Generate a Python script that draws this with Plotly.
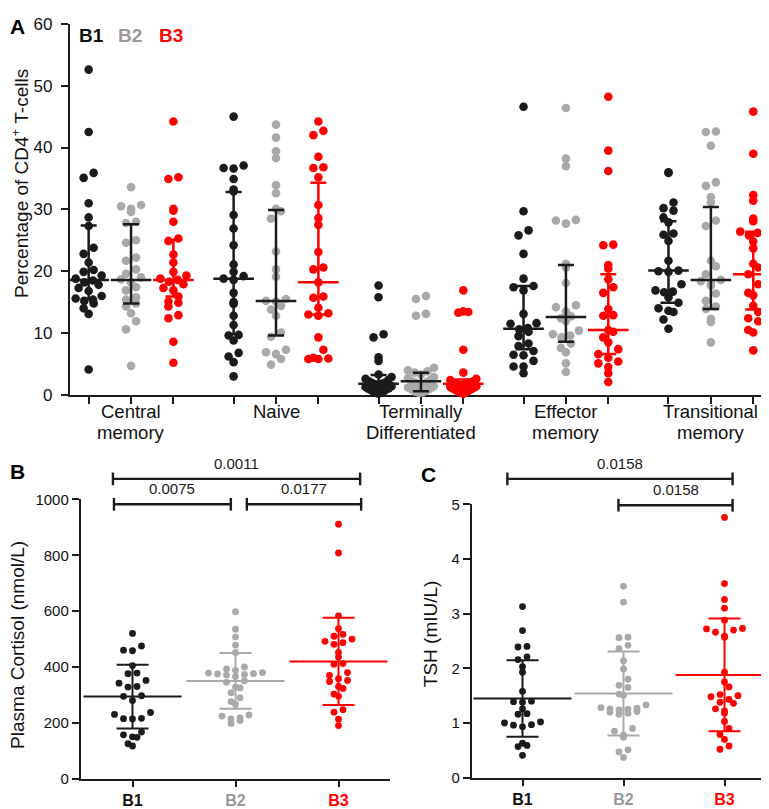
import numpy as np
import plotly.graph_objects as go

W, H = 769, 809
FONT = "Liberation Sans, Arial, Helvetica, sans-serif"

# ---------------- Panel A data (percentage of CD4+ T-cells) ----------------
subsets = ["Central<br>memory", "Naive", "Terminally<br>Differentiated",
           "Effector<br>memory", "Transitional<br>memory"]
groups = ["B1", "B2", "B3"]

cm_B1 = [52.6, 42.5, 35.9, 35.1, 31.0, 28.7, 27.3, 23.8, 22.8, 21.4, 20.2, 19.9, 19.3, 18.8,
         18.5, 18.2, 17.8, 17.3, 16.8, 16.0, 15.6, 15.4, 15.2, 14.8, 14.0, 13.1, 4.1]
cm_B2 = [33.6, 30.7, 30.5, 30.1, 29.6, 28.0, 27.8, 25.0, 24.6, 22.2, 21.7, 20.3, 19.6, 19.0,
         18.7, 18.2, 17.4, 16.9, 15.8, 15.4, 14.8, 14.3, 13.2, 11.9, 10.6, 4.7]
cm_B3 = [44.2, 35.2, 34.9, 30.1, 29.8, 28.0, 25.3, 24.9, 22.7, 21.4, 19.9, 19.3, 18.8, 18.6,
         18.3, 17.9, 17.3, 16.9, 15.9, 15.1, 14.9, 14.3, 12.9, 12.4, 8.6, 5.2]

nv_B1 = [45.0, 37.1, 36.7, 36.6, 34.9, 33.2, 32.9, 29.1, 26.9, 24.2, 21.1, 19.9, 19.2, 18.8,
         18.6, 16.5, 15.0, 14.7, 12.8, 11.3, 9.7, 9.6, 8.8, 6.8, 6.2, 5.3, 3.0]
nv_B2 = [43.7, 41.6, 39.4, 38.3, 33.9, 32.6, 30.1, 29.7, 28.5, 23.2, 20.3, 19.1, 15.5, 15.2,
         15.1, 14.4, 13.8, 12.8, 10.1, 9.4, 7.3, 6.9, 6.6, 5.8, 4.9]
nv_B3 = [44.2, 42.7, 42.0, 38.5, 36.8, 36.7, 35.2, 30.7, 28.6, 27.5, 23.1, 20.6, 20.3, 18.2,
         15.9, 15.7, 14.1, 13.2, 13.0, 12.8, 9.3, 7.3, 6.0, 5.9, 5.8, 5.8]

td_B1 = [17.7, 15.8, 9.8, 9.3, 6.1, 5.5, 3.3, 2.9, 2.6, 2.4, 2.2, 2.0, 1.9, 1.8, 1.7, 1.6,
         1.4, 1.3, 1.1, 1.0, 0.9, 0.8, 0.6, 0.5, 0.4, 0.3, 0.2]
td_B2 = [16.0, 15.5, 13.1, 12.8, 4.4, 4.0, 3.8, 3.6, 3.3, 2.9, 2.7, 2.4, 2.2, 2.1, 2.0, 1.8,
         1.6, 1.4, 1.2, 1.0, 0.9, 0.7, 0.5, 0.4, 0.3]
td_B3 = [16.9, 13.5, 13.4, 13.3, 7.3, 3.6, 2.6, 2.4, 2.2, 2.0, 1.9, 1.8, 1.7, 1.6, 1.5, 1.4,
         1.3, 1.2, 1.1, 1.0, 0.9, 0.8, 0.7, 0.6, 0.5, 0.4, 0.3, 0.2]

em_B1 = [46.6, 29.7, 26.6, 25.8, 22.8, 18.8, 17.6, 17.4, 16.9, 13.1, 11.6, 11.5, 10.8, 10.6,
         10.2, 9.5, 8.3, 7.9, 7.1, 6.5, 6.4, 5.5, 4.6, 4.6, 3.5]
em_B2 = [46.4, 38.2, 37.0, 28.3, 28.2, 27.7, 21.2, 20.6, 18.1, 14.5, 14.2, 13.5, 12.7, 12.4,
         11.9, 10.4, 9.8, 9.6, 9.3, 8.3, 7.6, 6.9, 5.1, 3.7]
em_B3 = [48.2, 39.5, 36.2, 24.3, 24.2, 21.0, 20.4, 18.7, 17.4, 16.5, 13.9, 12.9, 12.8, 10.5,
         10.2, 9.3, 8.5, 7.4, 6.6, 6.0, 5.4, 5.1, 4.5, 3.5, 2.1]

tm_B1 = [36.0, 35.9, 31.1, 30.2, 29.8, 28.7, 27.9, 26.1, 25.9, 24.9, 21.7, 20.1, 20.0, 19.9,
         17.9, 16.9, 16.7, 16.6, 15.8, 14.9, 14.0, 13.6, 13.4, 12.2, 10.7]
tm_B2 = [42.6, 42.5, 40.3, 34.4, 33.8, 32.0, 31.1, 28.2, 27.3, 21.7, 20.8, 19.5, 18.6, 18.4,
         18.1, 17.7, 16.4, 15.2, 14.3, 13.9, 12.3, 11.8, 8.5]
tm_B3 = [45.8, 39.0, 32.3, 31.4, 28.5, 28.1, 26.9, 26.4, 26.2, 25.8, 24.8, 23.7, 21.2, 20.6,
         19.5, 17.9, 16.5, 16.1, 14.4, 13.4, 12.4, 11.9, 10.5, 10.1, 7.2]

A_values = [[cm_B1, cm_B2, cm_B3], [nv_B1, nv_B2, nv_B3], [td_B1, td_B2, td_B3],
            [em_B1, em_B2, em_B3], [tm_B1, tm_B2, tm_B3]]

# median and interquartile range per subset [B1, B2, B3]
A_median = [[18.6, 18.6, 18.6], [18.8, 15.2, 18.2], [1.8, 2.2, 1.8], [10.7, 12.6, 10.5], [20.1, 18.6, 19.5]]
A_q1 = [[15.5, 14.8, 15.9], [9.8, 9.6, 13.0], [0.6, 0.6, 0.6], [7.4, 8.6, 6.6], [14.9, 13.9, 13.8]]
A_q3 = [[27.4, 27.6, 25.1], [32.8, 29.9, 34.3], [3.2, 3.6, 2.5], [17.6, 21.0, 19.5], [28.1, 30.4, 26.4]]

# ---------------- Panel B data (plasma cortisol, nmol/L) ----------------
cortisol_B1 = [520, 475, 460, 458, 405, 378, 376, 352, 342, 330, 328, 297, 295, 280, 237,
               230, 216, 215, 214, 167, 157, 150, 148, 125, 117]
cortisol_B2 = [598, 535, 507, 478, 452, 400, 393, 388, 380, 378, 376, 375, 373, 371, 366,
               350, 345, 328, 325, 308, 290, 276, 266, 228, 224, 218, 214, 208, 198]
cortisol_B3 = [911, 808, 583, 537, 517, 510, 500, 492, 487, 481, 452, 436, 412, 410, 380,
               370, 358, 352, 348, 330, 323, 303, 295, 247, 238, 213, 190]
cortisol_mean = [294, 350, 420]
cortisol_sd = [114, 100, 156]
cortisol_pairs = [(0, 2, "0.0011"), (0, 1, "0.0075"), (1, 2, "0.0177")]

# ---------------- Panel C data (TSH, mIU/L) ----------------
tsh_B1 = [3.13, 2.69, 2.40, 2.39, 2.21, 2.16, 2.03, 1.93, 1.58, 1.40, 1.39, 1.38, 1.26, 1.17,
          1.16, 1.02, 1.00, 0.97, 0.96, 0.93, 0.63, 0.59, 0.57, 0.41]
tsh_B2 = [3.50, 3.21, 2.57, 2.56, 2.42, 2.36, 2.14, 1.99, 1.80, 1.69, 1.65, 1.53, 1.51, 1.33,
          1.28, 1.27, 1.26, 1.25, 1.24, 1.21, 1.20, 1.18, 1.16, 0.90, 0.85, 0.78, 0.74, 0.51,
          0.47, 0.37]
tsh_B3 = [4.76, 3.55, 3.26, 3.10, 2.88, 2.73, 2.72, 2.70, 2.66, 2.59, 2.57, 1.93, 1.75, 1.66,
          1.52, 1.50, 1.48, 1.43, 1.38, 1.36, 1.26, 1.22, 1.18, 1.03, 0.90, 0.79, 0.70, 0.58,
          0.52]
tsh_mean = [1.45, 1.54, 1.88]
tsh_sd = [0.70, 0.77, 1.03]
tsh_pairs = [(0, 2, "0.0158"), (1, 2, "0.0158")]

# ---------------- styling ----------------
BLACK = "#1b1b1b"
GRAY = "#a9a9a9"
RED = "#ff0000"
dot_col = [BLACK, GRAY, RED]
barA_col = [BLACK, BLACK, RED]
label_col = ["#111111", "#999999", "#ff0000"]


def row_swarm(vals_px, row_h, spacing, maxw):
    """GraphPad-like scatter: points binned in rows, spread horizontally in each row."""
    vals_px = np.asarray(vals_px, float)
    bins = np.floor(vals_px / row_h).astype(int)
    offs = np.zeros(len(vals_px))
    for b in np.unique(bins):
        idx = np.where(bins == b)[0]
        idx = idx[np.argsort(vals_px[idx], kind="stable")]
        n = len(idx)
        s = spacing
        if n > 1 and (n - 1) * s > 2 * maxw:
            s = 2 * maxw / (n - 1)
        slots = (np.arange(n) - (n - 1) / 2.0) * s
        slots = sorted(slots, key=lambda v: (abs(v), v))
        for j, i in enumerate(idx):
            offs[i] = slots[j]
    return offs


fig = go.Figure()


def px2x(p):
    return p / W


def px2y(p):
    return 1 - p / H


GAP = 3.42
A_xr = [-1.44, 15.24]
A_dom_x = [px2x(62), 1.0]
A_dom_y = [px2y(387), px2y(7)]
A_xpx = (W - 62) / (A_xr[1] - A_xr[0])
A_ypx = (387 - 7) / 60.0

B_dom_x = [px2x(73), px2x(382)]
B_dom_y = [px2y(780), px2y(494)]
C_dom_x = [px2x(464), px2x(767)]
C_dom_y = [px2y(779), px2y(499)]
BC_xr = [-0.5, 2.5]

annotations, shapes = [], []

# ---- Panel A traces ----
A_tickvals = []
for g, sub in enumerate(subsets):
    for li, line in enumerate(sub.split("<br>")):
        annotations.append(dict(text=line, xref="x", yref="paper", x=g * GAP,
                                y=px2y(404 + 21 * li), xanchor="center", yanchor="middle",
                                showarrow=False, font=dict(size=18.5, color="#111", family=FONT)))
    for k in range(3):
        xc = g * GAP + (k - 1)
        A_tickvals.append(xc)
        vals = np.array(A_values[g][k], float)
        offs = row_swarm(vals * A_ypx, 9.5, 10.0, 13) / A_xpx
        fig.add_trace(go.Scatter(
            x=xc + offs, y=vals, mode="markers", xaxis="x", yaxis="y",
            marker=dict(size=8.6, color=dot_col[k], line=dict(width=0)),
            cliponaxis=False, showlegend=False, hoverinfo="y"))
        m = A_median[g][k]
        fig.add_trace(go.Scatter(
            x=[xc], y=[m], mode="markers", xaxis="x", yaxis="y",
            marker=dict(symbol="line-ew", size=29, color=barA_col[k],
                        line=dict(width=2.5, color=barA_col[k])),
            error_y=dict(type="data", symmetric=False, array=[A_q3[g][k] - m],
                         arrayminus=[m - A_q1[g][k]], width=8, thickness=2.5,
                         color=barA_col[k]),
            cliponaxis=False, showlegend=False, hoverinfo="skip"))


# ---- Panels B and C ----
def add_bc(datasets, means, sds, xa, ya, xpx, ypx):
    for k in range(3):
        vals = np.array(datasets[k], float)
        offs = row_swarm(vals * ypx, 8.5, 9.0, 34) / xpx
        fig.add_trace(go.Scatter(
            x=k + offs, y=vals, mode="markers", xaxis=xa, yaxis=ya,
            marker=dict(size=6.8, color=dot_col[k], line=dict(width=0)),
            cliponaxis=False, showlegend=False, hoverinfo="y"))
        fig.add_trace(go.Scatter(
            x=[k], y=[means[k]], mode="markers", xaxis=xa, yaxis=ya,
            marker=dict(symbol="line-ew", size=70, color=dot_col[k],
                        line=dict(width=2, color=dot_col[k])),
            error_y=dict(type="data", array=[sds[k]], width=16, thickness=2,
                         color=dot_col[k]),
            cliponaxis=False, showlegend=False, hoverinfo="skip"))


add_bc([cortisol_B1, cortisol_B2, cortisol_B3], cortisol_mean, cortisol_sd, "x2", "y2",
       (382 - 73) / 3.0, (780 - 494) / 1000.0)
add_bc([tsh_B1, tsh_B2, tsh_B3], tsh_mean, tsh_sd, "x3", "y3",
       (767 - 464) / 3.0, (779 - 499) / 5.0)

# ---- significance brackets ----
LW = 2.4


def bracket(xref, i, j, lo_pad, hi_pad, ypix, text):
    x0 = (i - lo_pad - BC_xr[0]) / (BC_xr[1] - BC_xr[0])
    x1 = (j + hi_pad - BC_xr[0]) / (BC_xr[1] - BC_xr[0])
    y = px2y(ypix)
    line = dict(color=BLACK, width=LW)
    shapes.append(dict(type="line", xref=xref + " domain", yref="paper",
                       x0=x0, x1=x1, y0=y, y1=y, line=line))
    for xx in (x0, x1):
        shapes.append(dict(type="line", xref=xref + " domain", yref="paper",
                           x0=xx, x1=xx, y0=y - 6.5 / H, y1=y + 6.5 / H, line=line))
    annotations.append(dict(text=text, xref=xref + " domain", yref="paper",
                            x=(x0 + x1) / 2, y=y + 5 / H, xanchor="center", yanchor="bottom",
                            showarrow=False, font=dict(size=15, color=BLACK, family=FONT)))


bracket("x2", cortisol_pairs[0][0], cortisol_pairs[0][1], 0.19, 0.21, 473, cortisol_pairs[0][2])
bracket("x2", cortisol_pairs[1][0], cortisol_pairs[1][1], 0.18, -0.045, 499, cortisol_pairs[1][2])
bracket("x2", cortisol_pairs[2][0], cortisol_pairs[2][1], -0.11, 0.22, 499, cortisol_pairs[2][2])
bracket("x3", tsh_pairs[0][0], tsh_pairs[0][1], 0.15, 0.08, 473, tsh_pairs[0][2])
bracket("x3", tsh_pairs[1][0], tsh_pairs[1][1], 0.05, 0.08, 500, tsh_pairs[1][2])

# ---- legend text for panel A and panel letters ----
for k, (g, xp) in enumerate(zip(groups, [69, 108, 149])):
    annotations.append(dict(text="<b>%s</b>" % g, xref="paper", yref="paper",
                            x=px2x(xp), y=px2y(19), xanchor="left", yanchor="middle",
                            showarrow=False, font=dict(size=19, color=label_col[k], family=FONT)))
for lab, xp, yp in [("A", 0, 10), ("B", 0, 465), ("C", 411, 468)]:
    annotations.append(dict(text="<b>%s</b>" % lab, xref="paper", yref="paper",
                            x=px2x(xp), y=px2y(yp), xanchor="left", yanchor="middle",
                            showarrow=False, font=dict(size=21, color="#000", family=FONT)))

# ---- axis titles ----
for txt, xp, yp in [("Percentage of CD4<sup>+</sup> T-cells", 12, 171),
                    ("Plasma Cortisol (nmol/L)", 10, 643),
                    ("TSH (mIU/L)", 422, 632)]:
    annotations.append(dict(text=txt, xref="paper", yref="paper", x=px2x(xp), y=px2y(yp),
                            xanchor="center", yanchor="middle", textangle=-90,
                            showarrow=False, font=dict(size=19, color="#111", family=FONT)))

axis_common = dict(showgrid=False, zeroline=False, showline=True, linecolor=BLACK,
                   linewidth=2.4, ticks="outside", ticklen=7, tickwidth=2.2,
                   tickcolor=BLACK, layer="below traces")
bc_x_common = dict(axis_common, ticklen=6)

bc_ticktext = ["<span style='color:%s'><b>%s</b></span>" % (label_col[k], g)
               for k, g in enumerate(groups)]

fig.update_layout(
    width=W, height=H, margin=dict(l=0, r=0, t=0, b=0),
    paper_bgcolor="white", plot_bgcolor="white",
    font=dict(family=FONT, color="#111"),
    showlegend=False,
    xaxis=dict(domain=A_dom_x, range=A_xr, tickvals=A_tickvals, showticklabels=False,
               anchor="y", **axis_common),
    yaxis=dict(domain=A_dom_y, range=[0, 60], tickvals=list(range(0, 61, 10)),
               tickfont=dict(size=17), anchor="x", ticklabelstandoff=5, **axis_common),
    xaxis2=dict(domain=B_dom_x, range=BC_xr, tickvals=[0, 1, 2], ticktext=bc_ticktext,
                tickfont=dict(size=16), anchor="y2", **bc_x_common),
    yaxis2=dict(domain=B_dom_y, range=[0, 1000], tickvals=list(range(0, 1001, 200)),
                tickfont=dict(size=15), anchor="x2", **axis_common),
    xaxis3=dict(domain=C_dom_x, range=BC_xr, tickvals=[0, 1, 2], ticktext=bc_ticktext,
                tickfont=dict(size=16), anchor="y3", **bc_x_common),
    yaxis3=dict(domain=C_dom_y, range=[0, 5], tickvals=[0, 1, 2, 3, 4, 5],
                tickfont=dict(size=15), anchor="x3", **axis_common),
    shapes=shapes, annotations=annotations,
)

fig.write_html("out.html")
